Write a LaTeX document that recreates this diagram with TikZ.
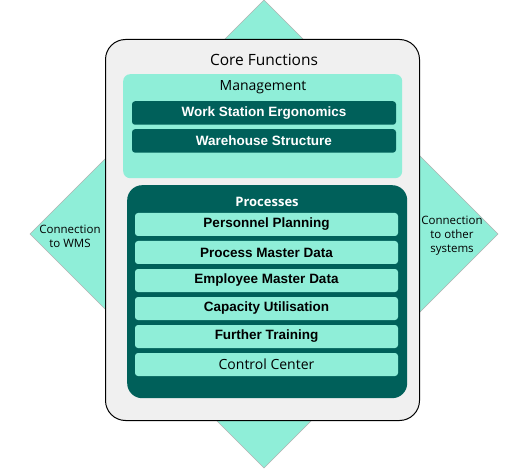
\documentclass[tikz,border=0pt]{standalone}
\usepackage{fontspec}
\setmainfont{Open Sans}
\newfontfamily\arialfont{Liberation Sans}
\usetikzlibrary{positioning}
\definecolor{mint}{HTML}{8FEED8}
\definecolor{darkteal}{HTML}{00605A}
\definecolor{corebg}{HTML}{F0F0F0}

\begin{document}
\begin{tikzpicture}[x=1pt,y=-1pt,
  bar/.style={fill=darkteal,text=white,rounded corners=3pt,minimum width=264pt,minimum height=23.5pt,inner sep=0pt,font=\arialfont\bfseries\fontsize{13.5}{15}\selectfont},
  item/.style={fill=mint,rounded corners=3pt,minimum width=263pt,minimum height=23pt,inner sep=0pt,font=\arialfont\bfseries\fontsize{13.5}{15}\selectfont},
  conn/.style={align=center,font=\fontsize{11.5}{14}\selectfont}]
\useasboundingbox (0,0) rectangle (527,470);
\draw[fill=mint,draw=gray!60] (264,0) -- (498,234) -- (264,468) -- (30,234) -- cycle;
\node[conn](wms) at (70,236){Connection\\to WMS};
\node[conn](other) at (452,236){Connection\\to other\\systems};
\node[draw,fill=corebg,line width=1pt,rounded corners=20pt,minimum width=314pt,minimum height=381pt,anchor=north west](core) at (105,39){};
\node[font=\fontsize{15.5}{17}\selectfont](coretitle) at (264,60){Core Functions};
\node[fill=mint,rounded corners=7pt,minimum width=279pt,minimum height=104pt,anchor=north west](mgmt) at (123,74){};
\node[font=\fontsize{14}{16}\selectfont](mgmttitle) at (263,87){Management};
\node[bar](ergo) at (264,113){Work Station Ergonomics};
\node[bar, below=4pt of ergo](whs){Warehouse Structure};
\node[fill=darkteal,rounded corners=15pt,minimum width=280pt,minimum height=213pt,anchor=north west](proc) at (127,185){};
\node[text=white,font=\bfseries\fontsize{13}{15}\selectfont](proctitle) at (267,202){Processes};
\node[item](plan) at (266.5,224.5){Personnel Planning};
\node[item, below=4.6pt of plan](pmd){Process Master Data};
\node[item, below=4.6pt of pmd](emd){Employee Master Data};
\node[item, below=4.6pt of emd](cap){Capacity Utilisation};
\node[item, below=4.6pt of cap](train){Further Training};
\node[item, below=4.6pt of train, font=\fontsize{14}{16}\selectfont](ctrl){Control Center};
\end{tikzpicture}
\end{document}
